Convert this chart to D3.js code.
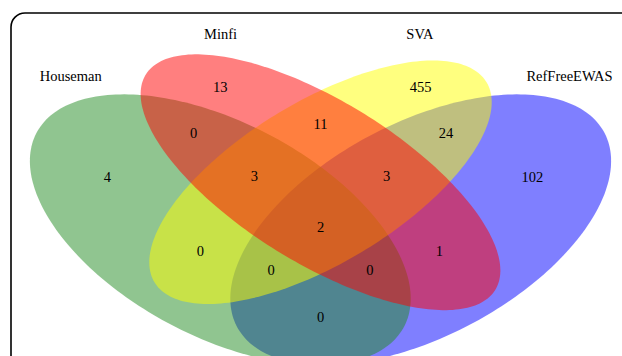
<!DOCTYPE html>
<html>
<head>
<meta charset="utf-8">
<script src="https://cdn.jsdelivr.net/npm/d3@7"></script>
<style>
  html, body { margin: 0; padding: 0; background: #fff; }
  svg { display: block; }
  text { font-family: "Liberation Serif", "Times New Roman", serif; font-size: 14.5px; fill: #000; }
</style>
</head>
<body>
<svg id="venn" width="622" height="356"></svg>
<script>
// Set names, in membership-key order (H, M, S, R)
const setNames = ["Houseman", "Minfi", "SVA", "RefFreeEWAS"];
const setColors = ["forestgreen", "red", "yellow", "blue"];

// Region keys: one character per set, "1" = inside
const regionKeys = ["1000", "0100", "0010", "0001",
                    "1100", "0110", "0011", "1010", "0101", "1001",
                    "1110", "0111", "1011", "1101", "1111"];
const regionCounts = [4, 13, 455, 102,
                      0, 11, 24, 0, 1, 0,
                      3, 3, 0, 0, 2];

// Four-set ellipse layout in unit coordinates: centre, semi-axes, rotation (deg)
const ellipses = [
  { set: 0, cx: 0.35, cy: 0.47, a: 0.35, b: 0.20, rot: 135 },
  { set: 1, cx: 0.50, cy: 0.57, a: 0.35, b: 0.15, rot: 135 },
  { set: 2, cx: 0.50, cy: 0.57, a: 0.33, b: 0.15, rot: 45 },
  { set: 3, cx: 0.65, cy: 0.47, a: 0.35, b: 0.20, rot: 45 }
];
// paint order of the ellipses
const drawOrder = [3, 0, 2, 1];

// label anchor points in unit coordinates
const regionPos = {
  "1000": [0.181, 0.581], "0100": [0.350, 0.771], "0010": [0.650, 0.771], "0001": [0.817, 0.581],
  "1100": [0.310, 0.673], "0110": [0.500, 0.693], "0011": [0.688, 0.673],
  "1010": [0.320, 0.426], "0101": [0.678, 0.426], "1001": [0.500, 0.287],
  "1110": [0.401, 0.583], "0111": [0.599, 0.583], "1011": [0.426, 0.385], "1101": [0.574, 0.385],
  "1111": [0.500, 0.475]
};
const setLabelPos = [[0.126, 0.794], [0.3505, 0.8815], [0.6488, 0.8815], [0.8727, 0.794]];

const svg = d3.select("#venn");
const x = d3.scaleLinear().domain([0, 1]).range([320.5 - 0.5 * 668, 320.5 + 0.5 * 668]);
const y = d3.scaleLinear().domain([0, 1]).range([453, -22]);

// frame
svg.append("rect")
  .attr("x", 11).attr("y", 13)
  .attr("width", 660).attr("height", 400)
  .attr("rx", 14).attr("ry", 14)
  .attr("fill", "none").attr("stroke", "#000").attr("stroke-width", 1.6);

const line = d3.line().x(d => x(d[0])).y(d => y(d[1])).curve(d3.curveLinearClosed);
function ellipsePoints(e) {
  const phi = e.rot * Math.PI / 180, n = 240, pts = [];
  for (let i = 0; i < n; i++) {
    const t = 2 * Math.PI * i / n;
    const u = e.a * Math.cos(t), v = e.b * Math.sin(t);
    pts.push([e.cx + u * Math.cos(phi) - v * Math.sin(phi),
              e.cy + u * Math.sin(phi) + v * Math.cos(phi)]);
  }
  return pts;
}

svg.append("g").selectAll("path")
  .data(drawOrder.map(i => ellipses[i]))
  .join("path")
  .attr("d", d => line(ellipsePoints(d)))
  .attr("fill", d => setColors[d.set])
  .attr("fill-opacity", 0.5)
  .attr("stroke", "none");

// region counts
svg.append("g").selectAll("text")
  .data(regionKeys.map((k, i) => ({ key: k, count: regionCounts[i] })))
  .join("text")
  .attr("x", d => x(regionPos[d.key][0]))
  .attr("y", d => y(regionPos[d.key][1]))
  .attr("dy", "0.34em")
  .attr("text-anchor", "middle")
  .text(d => d.count);

// set names
svg.append("g").selectAll("text")
  .data(setNames)
  .join("text")
  .attr("x", (d, i) => x(setLabelPos[i][0]))
  .attr("y", (d, i) => y(setLabelPos[i][1]))
  .attr("dy", "0.34em")
  .attr("text-anchor", "middle")
  .text(d => d);
</script>
</body>
</html>
